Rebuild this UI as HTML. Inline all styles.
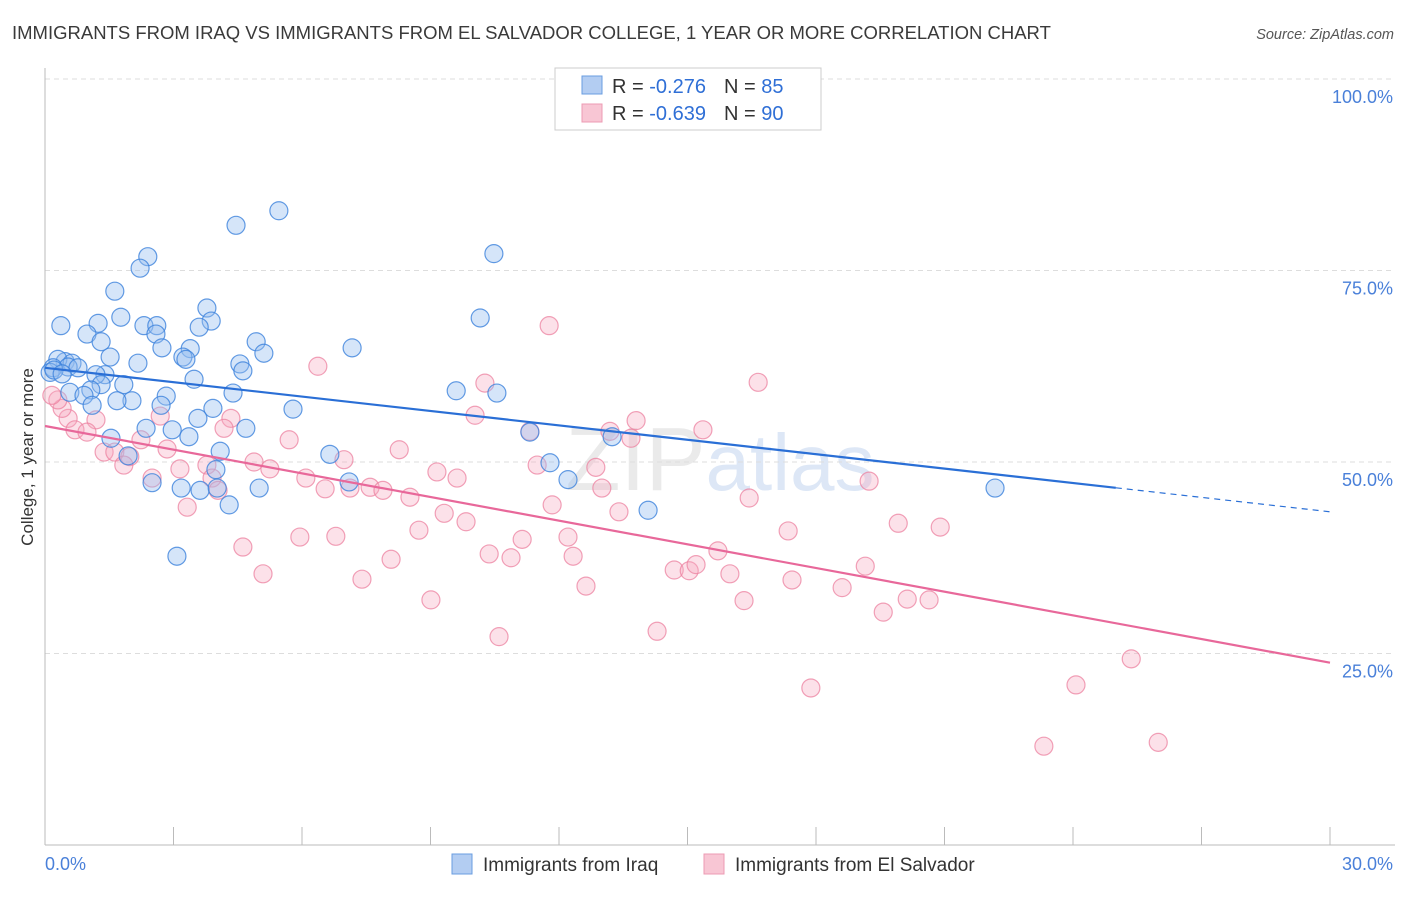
<!DOCTYPE html>
<html><head><meta charset="utf-8"><style>
body{margin:0;background:#fff;font-family:"Liberation Sans",sans-serif;}
svg text{font-family:"Liberation Sans",sans-serif;}
</style></head><body>
<svg id="chart" width="1406" height="892" xmlns="http://www.w3.org/2000/svg">
<text x="12" y="39" font-size="18.5" fill="#3a3a3a">IMMIGRANTS FROM IRAQ VS IMMIGRANTS FROM EL SALVADOR COLLEGE, 1 YEAR OR MORE CORRELATION CHART</text>
<text x="1394" y="39" font-size="14.5" font-style="italic" fill="#555" text-anchor="end">Source: ZipAtlas.com</text>
<text x="720" y="490" font-size="90" fill="#eaeaea" text-anchor="middle" font-family="Liberation Serif,serif">ZIP<tspan font-family="Liberation Sans,sans-serif" fill="#dde7f6" font-size="80">atlas</tspan></text>
<g id="grid"></g>
<g id="marks"></g>
<g id="lines"></g>
<text transform="translate(33,457) rotate(-90)" font-size="17" fill="#333" text-anchor="middle">College, 1 year or more</text>
<g>
<rect x="555" y="68" width="266" height="62" fill="#fff" stroke="#ccc"/>
<rect x="582" y="76" width="20" height="18" fill="#b3cdf2" stroke="#6a9de0"/>
<rect x="582" y="104" width="20" height="18" fill="#f8c6d4" stroke="#ec9bb3"/>
<text x="612" y="93" font-size="20" fill="#333">R = <tspan fill="#2f6fd6">-0.276</tspan><tspan dx="18">N = </tspan><tspan fill="#2f6fd6">85</tspan></text>
<text x="612" y="120" font-size="20" fill="#333">R = <tspan fill="#2f6fd6">-0.639</tspan><tspan dx="18">N = </tspan><tspan fill="#2f6fd6">90</tspan></text>
</g>
<g>
<rect x="452" y="854" width="20" height="20" fill="#b3cdf2" stroke="#6a9de0"/>
<text x="483" y="871" font-size="19" fill="#333">Immigrants from Iraq</text>
<rect x="704" y="854" width="20" height="20" fill="#f8c6d4" stroke="#ec9bb3"/>
<text x="735" y="871" font-size="19" fill="#333">Immigrants from El Salvador</text>
</g>
</svg>
<script>
const yTicks=[100,75,50,25];
const yTickLabels=["100.0%","75.0%","50.0%","25.0%"];
const xTicks=[0,3,6,9,12,15,18,21,24,27,30];
const iraqX=[5.46,4.46,10.48,2.40,2.22,1.63,3.78,1.77,0.37,1.24,2.31,2.61,3.88,3.60,2.59,10.16,0.98,1.31,2.73,3.39,7.17,4.93,5.11,3.22,3.29,1.52,2.17,4.55,4.62,0.47,0.30,0.63,0.54,0.19,0.12,0.77,1.40,1.19,3.48,1.84,1.31,4.39,2.83,9.60,10.55,1.07,0.58,0.91,2.03,1.68,2.71,3.92,5.79,1.10,3.57,2.36,2.97,11.32,1.54,3.36,4.69,13.24,4.09,6.65,1.94,11.79,3.99,12.21,2.50,3.18,3.62,4.02,5.00,7.10,22.18,14.08,4.30,3.08,0.21,0.40];
const iraqY=[82.8,80.9,77.2,76.8,75.3,72.3,70.1,68.9,67.8,68.1,67.8,67.8,68.4,67.6,66.7,68.8,66.7,65.7,64.9,64.8,64.9,65.7,64.2,63.7,63.4,63.7,62.9,62.8,61.9,63.1,63.4,62.9,62.4,62.3,61.7,62.3,61.4,61.4,60.8,60.1,60.1,59.0,58.6,59.3,59.0,59.4,59.1,58.7,58.0,58.0,57.4,57.0,56.9,57.4,55.7,54.4,54.2,53.9,53.1,53.3,54.4,53.3,51.4,51.0,50.8,49.9,49.0,47.7,47.3,46.6,46.3,46.6,46.6,47.4,46.6,43.7,44.4,37.7,62.0,61.5];
const salvX=[11.77,16.65,6.37,10.27,10.04,4.34,2.69,13.80,15.36,0.54,1.19,0.70,0.98,0.40,0.30,0.16,11.32,13.19,13.68,2.24,4.18,5.70,8.27,2.85,1.38,1.63,1.98,4.88,6.98,3.78,3.15,1.84,9.15,9.62,11.49,12.86,5.25,2.50,6.09,7.59,6.54,7.12,7.89,8.52,13.00,16.44,19.24,11.84,3.32,3.90,4.04,9.32,9.83,13.40,19.92,20.90,8.73,5.95,6.79,11.14,12.21,4.62,10.37,10.88,8.08,12.33,15.71,17.35,14.69,15.04,15.20,15.99,5.09,7.40,12.63,17.44,19.15,18.61,9.01,16.32,20.13,20.64,19.57,14.29,10.60,25.36,17.88,24.07,23.32,25.99];
const salvY=[67.8,60.4,62.5,60.3,56.1,55.7,56.0,55.4,54.2,55.7,55.5,54.2,53.9,57.0,58.1,58.7,54.0,54.0,53.1,52.9,54.4,52.9,51.6,51.7,51.3,51.3,50.7,50.0,50.3,49.6,49.1,49.6,48.7,47.9,49.6,49.3,49.1,47.9,47.9,46.7,46.5,46.6,46.3,45.4,46.6,45.3,47.5,44.4,44.1,47.9,46.3,43.3,42.2,43.5,42.0,41.5,41.1,40.2,40.3,39.9,40.2,38.9,38.0,37.5,37.3,37.7,38.4,41.0,35.9,35.8,36.6,35.4,35.4,34.7,33.8,34.6,36.4,33.6,32.0,31.9,32.1,32.0,30.4,27.9,27.2,24.3,20.5,20.9,12.9,13.4];
const iraqTrend=[62.3,43.5];
const salvTrend=[54.7,23.8];
const NS="http://www.w3.org/2000/svg";
const X0=45,X1=1330,Y0=845,Y100=79;
const sx=v=>X0+(X1-X0)*v/30;
const sy=v=>Y0-(Y0-Y100)*v/100;
function mk(tag,attrs,parent){const e=document.createElementNS(NS,tag);for(const k in attrs)e.setAttribute(k,attrs[k]);parent.appendChild(e);return e;}
const grid=document.getElementById('grid'),marks=document.getElementById('marks'),lines=document.getElementById('lines');
yTicks.forEach((t,i)=>{
  const l=mk('line',{x1:X0,x2:1395,y1:sy(t),y2:sy(t),stroke:'#ddd','stroke-dasharray':'5,4'},grid);
  
  
  const tx=mk('text',{x:1393,y:sy(t)+24,'font-size':18,fill:'#4a80d9','text-anchor':'end'},grid);
  tx.textContent=yTickLabels[i];
  
  
});
const ax=mk('line',{x1:X0,x2:X0,y1:68,y2:Y0,stroke:'#bbb'},grid);


const bx=mk('line',{x1:X0,x2:1395,y1:Y0,y2:Y0,stroke:'#bbb'},grid);


xTicks.forEach(t=>{
  const l=mk('line',{x1:sx(t),x2:sx(t),y1:827,y2:Y0,stroke:'#bbb'},grid);
  
  
});
const xl0=mk('text',{x:45,y:870,'font-size':18,fill:'#4a80d9'},grid);xl0.textContent=xTicks[0].toFixed(1)+'%';


const xl1=mk('text',{x:1393,y:870,'font-size':18,fill:'#4a80d9','text-anchor':'end'},grid);xl1.textContent=xTicks[xTicks.length-1].toFixed(1)+'%';


function pts(xs,ys,fill,stroke,name){
  xs.forEach((x,i)=>{
    const c=mk('circle',{cx:sx(x),cy:sy(ys[i]),r:9,fill:fill,stroke:stroke,'stroke-width':1.2},marks);
    
    
  });
}
pts(salvX,salvY,'rgba(246,170,192,0.35)','rgba(236,130,160,0.75)','point-el-salvador');
pts(iraqX,iraqY,'rgba(150,190,240,0.4)','rgba(60,130,220,0.8)','point-iraq');
const tb=mk('line',{x1:sx(0),y1:sy(iraqTrend[0]),x2:sx(25),y2:sy(iraqTrend[0]+(iraqTrend[1]-iraqTrend[0])*25/30),stroke:'#2a6fd6','stroke-width':2.2},lines);


const tbd=mk('line',{x1:sx(25),y1:sy(iraqTrend[0]+(iraqTrend[1]-iraqTrend[0])*25/30),x2:sx(30),y2:sy(iraqTrend[1]),stroke:'#2a6fd6','stroke-width':1.2,'stroke-dasharray':'6,5'},lines);


const tp=mk('line',{x1:sx(0),y1:sy(salvTrend[0]),x2:sx(30),y2:sy(salvTrend[1]),stroke:'#e8689a','stroke-width':2.2},lines);


</script>
</body></html>
